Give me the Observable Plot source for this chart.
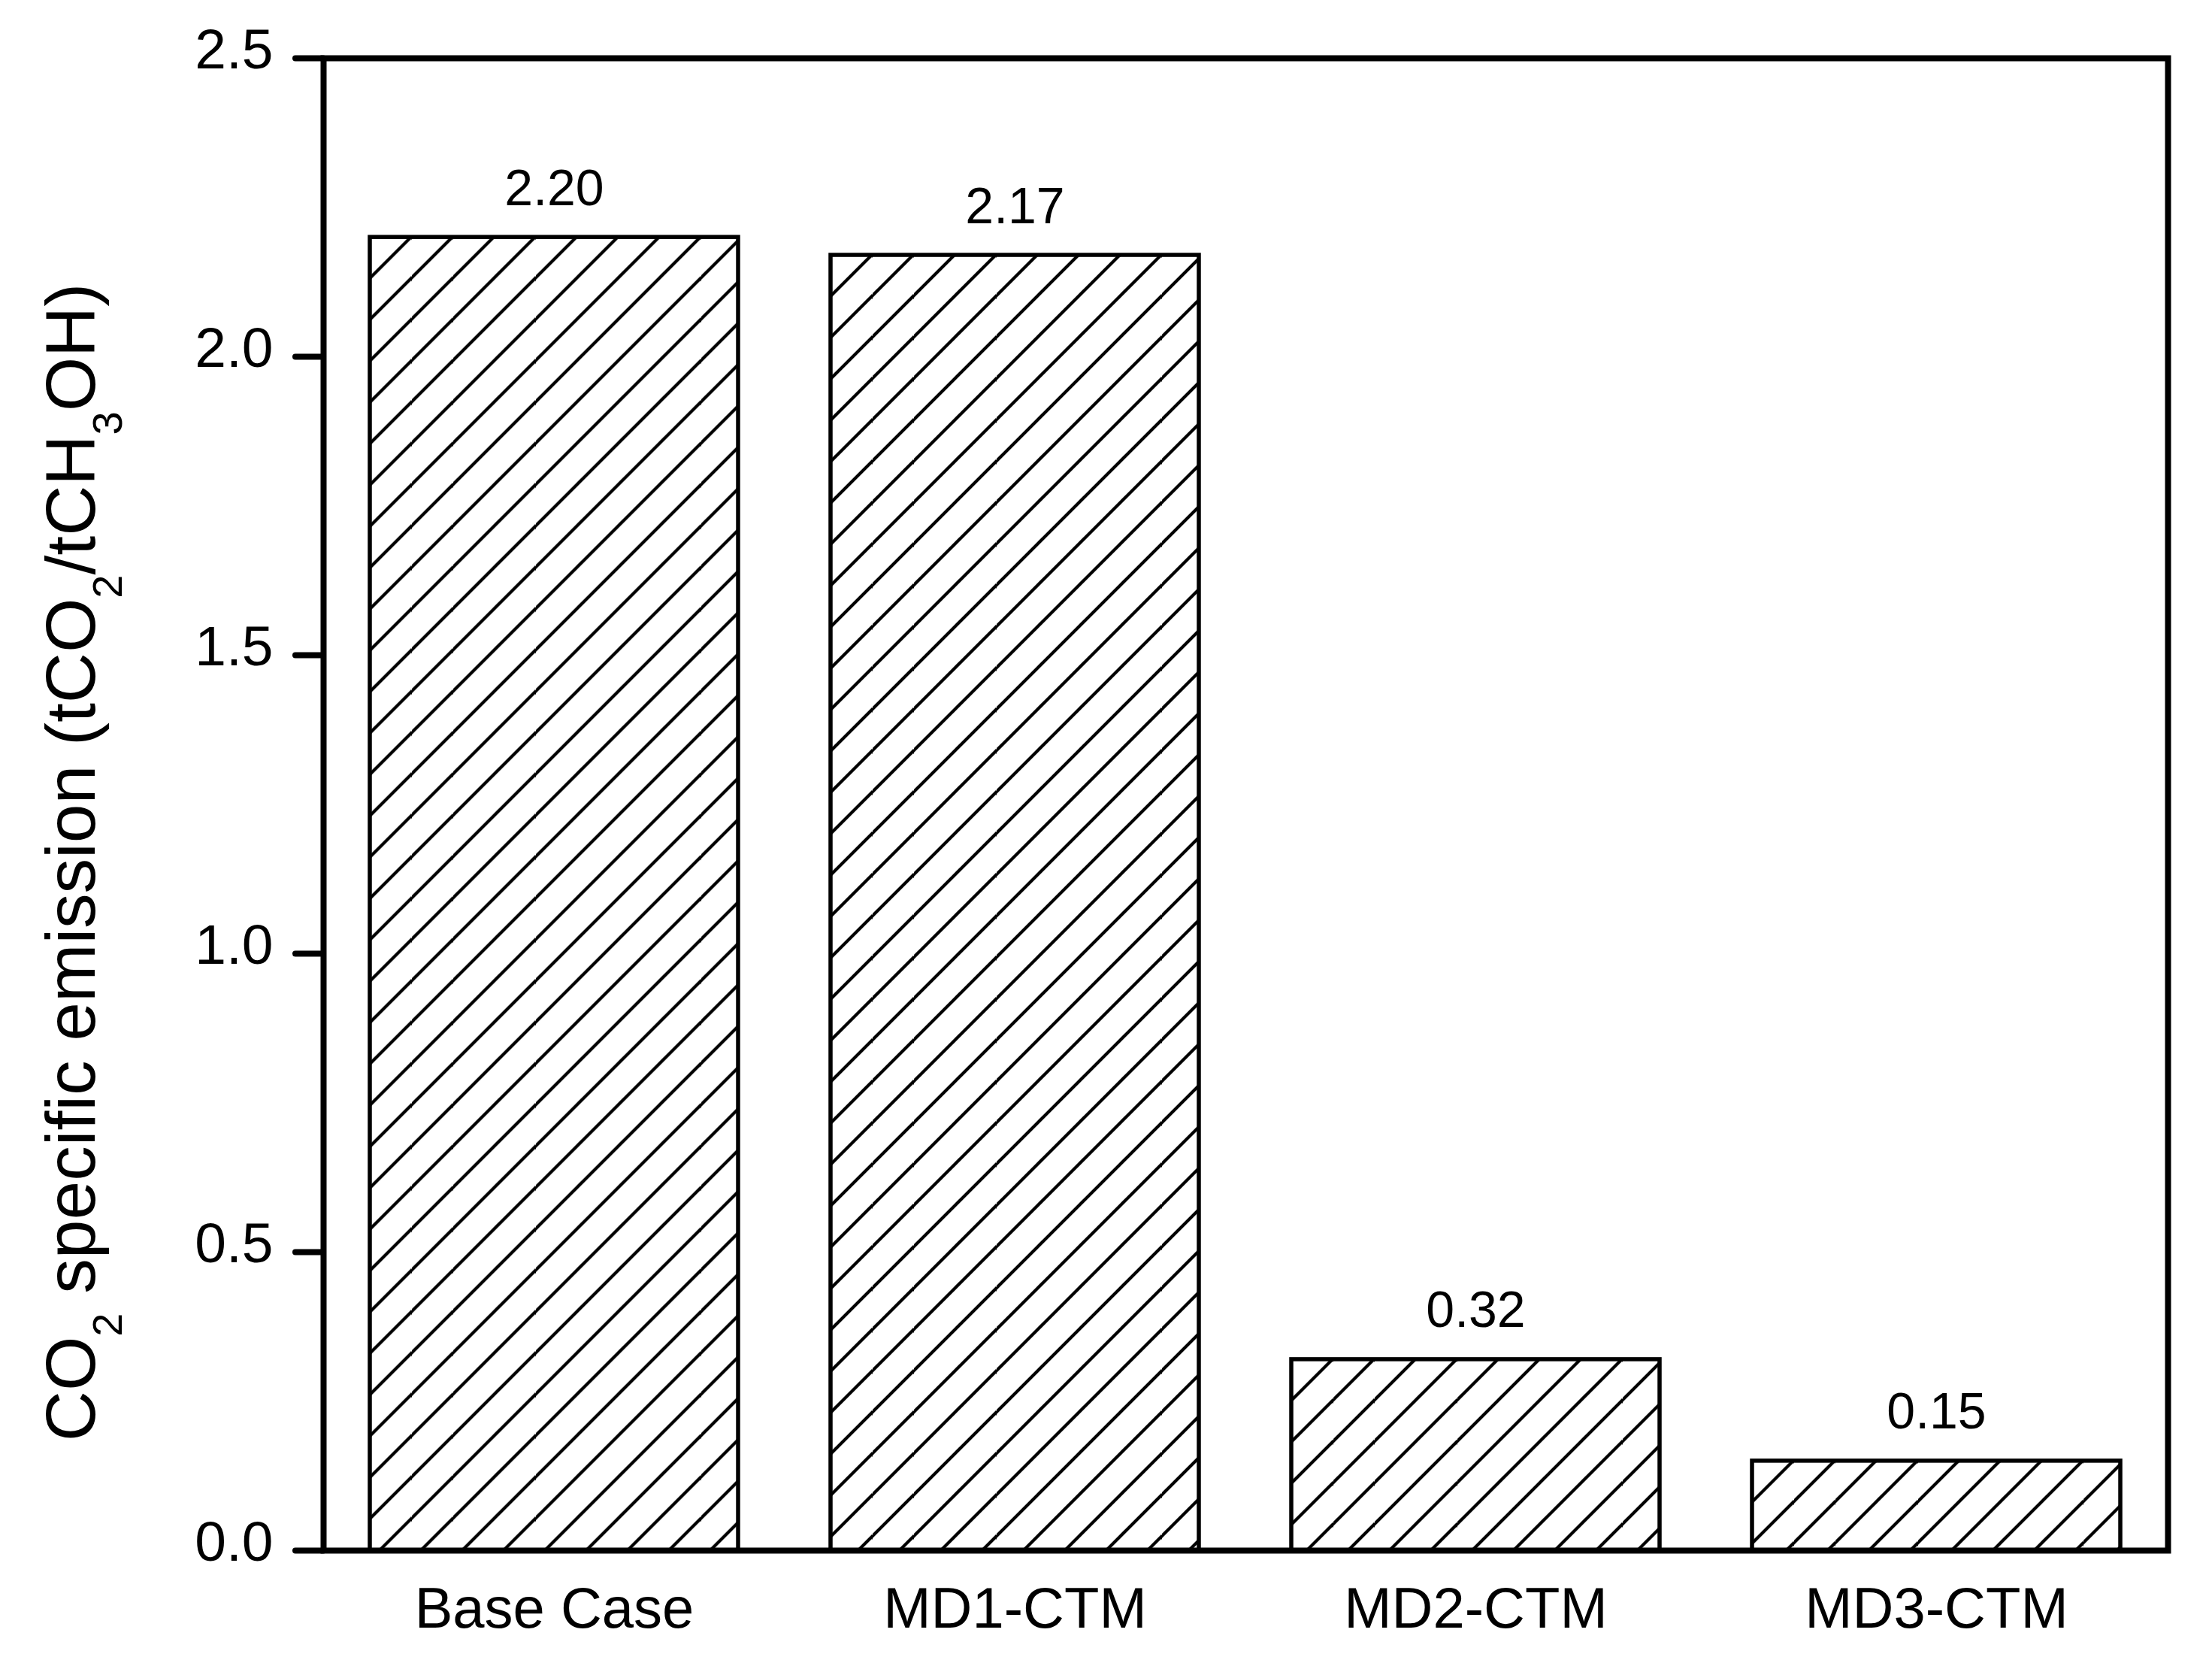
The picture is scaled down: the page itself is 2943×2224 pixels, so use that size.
<!DOCTYPE html>
<html>
<head>
<meta charset="utf-8">
<script src="https://cdn.jsdelivr.net/npm/d3@7"></script>
<script src="https://cdn.jsdelivr.net/npm/@observablehq/plot@0.6"></script>
<style>
  html, body { margin: 0; padding: 0; background: #fff; }
  #chart svg { display: block; }
</style>
</head>
<body>
<div id="chart"></div>
<script>
const categories = ["Base Case", "MD1-CTM", "MD2-CTM", "MD3-CTM"];
const values = [2.20, 2.17, 0.32, 0.15];
const valueLabels = ["2.20", "2.17", "0.32", "0.15"];
const yTicks = [0, 0.5, 1.0, 1.5, 2.0, 2.5];
const titleParts = [
  {t: "CO", sub: false}, {t: "2", sub: true},
  {t: " specific emission (tCO", sub: false}, {t: "2", sub: true},
  {t: "/tCH", sub: false}, {t: "3", sub: true},
  {t: "OH)", sub: false}
];

const data = categories.map((c, i) => ({cat: c, value: values[i], label: valueLabels[i]}));

const W = 2943, H = 2224;
const FONT = "'Liberation Sans', Arial, Helvetica, sans-serif";

const chart = Plot.plot({
  width: W,
  height: H,
  marginLeft: 430,
  marginRight: 59,
  marginTop: 77,
  marginBottom: 162,
  style: {fontFamily: FONT, background: "white", color: "black", overflow: "visible"},
  x: {domain: categories, paddingInner: 0.2, paddingOuter: 0.1, label: null},
  y: {domain: [0, 2.5], label: null},
  marks: [
    Plot.barY(data, {x: "cat", y: "value", fill: "white", stroke: "black", strokeWidth: 5.5}),
    Plot.text(data, {x: "cat", y: "value", text: "label", dy: -43, lineAnchor: "bottom", fontSize: 68, fill: "black"}),
    Plot.frame({stroke: "black", strokeWidth: 8}),
    Plot.axisY({ticks: yTicks, tickSize: 37, strokeWidth: 8, fill: "none", label: null, strokeLinecap: "round"}),
    Plot.axisY({ticks: yTicks, tickSize: 0, tickPadding: 67, dy: -11, fontSize: 75, tickFormat: d3.format(".1f"), label: null, fill: "black"}),
    Plot.axisX({tickSize: 0, tickPadding: 49, fontSize: 76, label: null, fill: "black"})
  ]
});

const svg = d3.select(chart);
const defs = svg.insert("defs", ":first-child");
const S = 55;
svg.selectAll('g[aria-label="bar"] rect').each(function(d, i) {
  const r = d3.select(this);
  const x = +r.attr("x"), y = +r.attr("y");
  const id = "hatch" + i;
  const p = defs.append("pattern")
    .attr("id", id)
    .attr("patternUnits", "userSpaceOnUse")
    .attr("width", S).attr("height", S)
    .attr("patternTransform", `translate(${x},${y})`);
  p.append("rect").attr("width", S).attr("height", S).attr("fill", "white");
  p.append("path")
    .attr("d", `M-6,${S + 6}L${S + 6},-6M-6,6L6,-6M${S - 6},${S + 6}L${S + 6},${S - 6}`)
    .attr("stroke", "black").attr("stroke-width", 4.2).attr("fill", "none");
  r.attr("fill", `url(#${id})`);
});

// Y-axis title with subscripts
const title = svg.append("text")
  .attr("transform", "translate(162,1147) rotate(-90)")
  .attr("text-anchor", "middle")
  .attr("font-family", FONT)
  .attr("font-size", 93)
  .attr("fill", "black");
titleParts.forEach(p => {
  if (p.sub) {
    title.append("tspan").attr("font-size", 56).attr("dy", 36).text(p.t);
  } else {
    title.append("tspan").attr("dy", title.selectAll("tspan").size() > 0 ? -36 : 0).text(p.t);
  }
});

document.getElementById("chart").appendChild(chart);
</script>
</body>
</html>
